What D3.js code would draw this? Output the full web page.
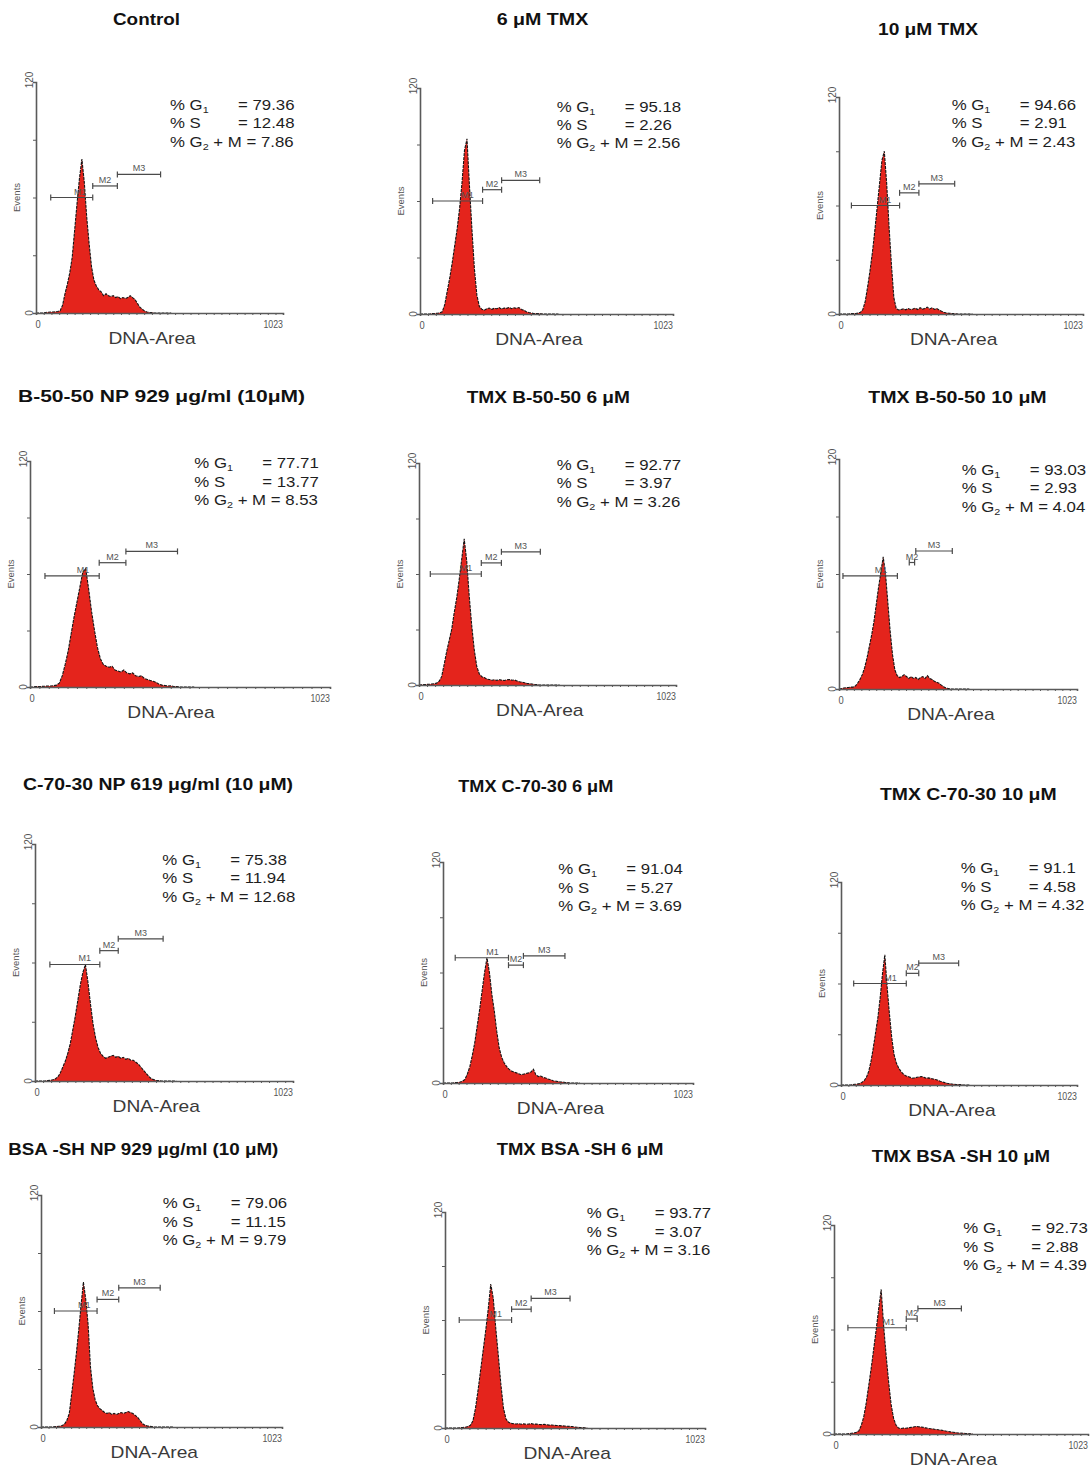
<!DOCTYPE html>
<html>
<head>
<meta charset="utf-8">
<script src="https://cdn.jsdelivr.net/npm/d3@7"></script>
<style>
  html, body { margin: 0; padding: 0; background: #ffffff; }
  svg text { font-family: "Liberation Sans", Arial, sans-serif; }
</style>
</head>
<body>
<svg id="chart" width="1091" height="1468"></svg>
<script>
// ---------------- DATA ----------------
const titles = [
  "Control", "6 μM TMX", "10 μM TMX",
  "B-50-50 NP 929 μg/ml (10μM)", "TMX B-50-50 6 μM", "TMX B-50-50 10 μM",
  "C-70-30 NP 619 μg/ml (10 μM)", "TMX C-70-30 6 μM", "TMX C-70-30 10 μM",
  "BSA -SH NP 929 μg/ml (10 μM)", "TMX BSA -SH 6 μM", "TMX BSA -SH 10 μM"
];
const pctG1  = ["79.36", "95.18", "94.66", "77.71", "92.77", "93.03", "75.38", "91.04", "91.1", "79.06", "93.77", "92.73"];
const pctS   = ["12.48", "2.26", "2.91", "13.77", "3.97", "2.93", "11.94", "5.27", "4.58", "11.15", "3.07", "2.88"];
const pctG2M = ["7.86", "2.56", "2.43", "8.53", "3.26", "4.04", "12.68", "3.69", "4.32", "9.79", "3.16", "4.39"];

const yTicks = [0, 30, 60, 90, 120];
const xTickLabels = ["0", "1023"];
const xMinorTicks = [0, 32, 64, 96, 128, 160, 192, 224, 256, 288, 320, 352, 384, 416, 448, 480, 512, 544, 576, 608, 640, 672, 704, 736, 768, 800, 832, 864, 896, 928, 960, 992, 1023];

// DNA-Area channels (histogram sample points)
const channels = [0,10,20,30,40,50,60,70,80,90, 100,110,120,130,140,150,160,170,180,190,
  200,210,220,230,240,250,260,270,280,290, 300,310,320,330,340,350,360,370,380,390,
  400,410,420,430,440,450,460,470,480,490, 500,510,520,530,540,550,560];

// Events per channel, one list per sample
const countsControl = [0,0,0,0,0.3,0.4,0.5,0.5,0.6,0.8, 1.2,4,10,15,21,29,43,57,70,80, 68,50,36,24,17,14,12,11,9,10, 9,8.5,9,8,8.5,7.5,8,7.5,8,9, 8,7,5,3,2,1,0.5,0.3,0.2,0, 0,0,0,0,0,0,0];
const countsTmx6 = [0,0,0,0,0,0.2,0.3,0.4,0.6,1.2, 5,12,19,27,36,45,56,70,87,93, 68,45,24,10,4,2.5,2,2.8,3.2,2.5, 3,2.8,3.4,2.6,3.2,3,3.5,2.8,3.3,3, 3.4,2.4,2,1.2,0.8,0.5,0.3,0.2,0.2,0.1, 0,0,0,0,0,0,0];
const countsTmx10 = [0,0,0,0,0,0.2,0.3,0.3,0.5,0.9, 2.5,7,15,24,34,46,59,72,85,90, 72,48,27,9,3,2.2,2.5,2.8,2.3,3, 2.5,2.8,3.2,2.5,3.5,2.7,3,3.8,2.8,3.4, 2.6,3,2.2,1.5,1,0.6,0.4,0.3,0.2,0.1, 0,0,0,0,0,0,0];
const countsB5050 = [0,0,0.2,0.3,0.3,0.4,0.5,0.5,0.7,1, 2,6,12,19,28,37,45,53,61,63, 52,40,30,21,15,12,11,10.5,11,9, 8.5,8,9,7.5,7,7.5,6,5.5,6,4.5, 4,3.5,3,2.5,1.5,1,0.8,0.5,0.6,0.3, 0.2,0,0,0,0,0,0];
const countsTmxB6 = [0,0.1,0.2,0.3,0.4,0.5,0.7,1,2,4.5, 11,18,24,30,39,47,57,68,79,67, 48,32,19,10,6,4.5,4,3.2,3,2.6, 2.8,2.5,2.9,2.6,2.4,2.8,3,2.6,2.7,2.2, 1.8,1.5,1.2,0.9,0.7,0.5,0.3,0.2,0,0, 0,0,0,0,0,0,0];
const countsTmxB10 = [0,0.2,0.5,0.7,0.8,1,1,1.5,3,5, 7.5,11,16,22,28,35,44,53,61,69, 60,45,30,18,10,7,6,6.5,7.5,6.5, 5.5,6.5,5.5,6,5,6,6.5,5.5,7,5.5, 5,4,3.5,3,2,1.2,0.5,0.3,0,0, 0,0,0,0,0,0,0];
const countsC7030 = [0,0,0,0,0,0.2,0.3,0.6,1,2, 4,7,10,14,19,26,33,41,49,55, 59,50,39,29,22,17,14,12.5,11.5,12, 12.5,13,12,12.5,11.5,12,11,11.5,10.5,10.5, 9.5,8.5,7,5.5,4,2.5,1.3,0.7,0.4,0.2, 0,0,0,0,0,0,0];
const countsTmxC6 = [0,0,0,0,0,0.2,0.3,0.5,1,2, 5,9,15,22,31,40,50,60,68,60, 48,39,28,19,14,11,9,7.5,6.5,6, 5.5,5,4.5,4.8,5.2,5.5,6,7.5,4.5,3.5, 3.8,3,2.7,2.2,1.8,1.2,1,0.8,0.6,0.5, 0.3,0.2,0,0,0,0,0];
const countsTmxC10 = [0,0,0,0,0,0.2,0.4,0.5,0.8,1.5, 2.5,4.5,8,14,22,31,40,52,66,77, 58,42,28,18,13,10,8,6.5,5.5,5, 4.5,4,4.2,4.6,4.8,5,4.5,4,4.2,3.8, 3.5,3.2,2.8,2.2,1.8,1.4,1,0.8,0.6,0.4, 0.3,0.3,0.2,0,0,0,0];
const countsBsa = [0,0,0,0,0,0,0.2,0.3,0.5,0.8, 1.5,3.5,7,17,27,38,50,63,75,66, 53,31,20,14,11,9.5,8.5,7.5,7,7.5, 6.5,7,6.5,7,7.5,7,7.5,8,7.5,7, 6,5,3.5,1.8,1,0.6,0.4,0.2,0,0, 0,0,0,0,0,0,0];
const countsTmxBsa6 = [0,0,0,0,0,0,0.2,0.3,0.4,0.8, 1.5,4,11,21,32,43,54,66,80,72, 55,40,24,11,5,3.2,2.6,2.4,2.2,2.4, 2.1,2.3,2,2.2,2.4,2.1,2.2,2,1.9,2, 1.8,1.6,1.7,1.5,1.4,1.3,1.2,1.1,1,0.9, 0.8,0.6,0.4,0.3,0.2,0.1,0];
const countsTmxBsa10 = [0,0,0,0,0,0,0.2,0.4,0.6,1, 1.8,5,10,18,28,38,49,60,72,83, 62,45,30,17,9,5,3.4,3.2,3.4,3.3, 3.6,3.8,4,4.3,4.2,4,3.8,3.5,3.2,3, 2.9,2.6,2.4,2.2,2,1.7,1.5,1.2,1,0.8, 0.6,0.5,0.4,0.3,0.2,0.1,0];

const allCounts = [countsControl, countsTmx6, countsTmx10, countsB5050, countsTmxB6, countsTmxB10,
  countsC7030, countsTmxC6, countsTmxC10, countsBsa, countsTmxBsa6, countsTmxBsa10];

// Gate markers: [start channel, end channel, events level]
const markerNames = ["M1", "M2", "M3"];
const markersM1 = [[61,235,60],[51,253,60],[52,254,60],[51,236,59],[45,248,60],[17,251,59],[59,257,59],[50,268,68],[55,283,60],[57,238,60],[56,262,60],[56,291,61]];
const markersM2 = [[235,337,66],[253,330,66],[254,335,67],[236,327,66],[248,328,66],[302,325,66],[257,330,66],[268,329,64],[283,337,66],[238,330,66],[262,339,66],[291,335,66]];
const markersM3 = [[337,516,72],[330,484,71],[335,485,72],[327,503,72],[328,483,72],[330,487,72],[330,508,72],[329,499,69],[337,510,72],[330,506,72],[339,492,72],[338,513,72]];

// ---------------- LAYOUT (pixel positions of each panel) ----------------
const layout = [
  {x0:36,  x1:283,  y0:313,  yTop:82,   tx:146.5, ty:25,    tw:67,    sx:170,   sy:110},
  {x0:420, x1:673,  y0:314,  yTop:88,   tx:542.5, ty:25,    tw:91.6,  sx:556.7, sy:111.7},
  {x0:839, x1:1083, y0:314,  yTop:97,   tx:928,   ty:35,    tw:100,   sx:951.7, sy:110},
  {x0:30,  x1:330,  y0:687,  yTop:461,  tx:161.5, ty:401.7, tw:287,   sx:194.3, sy:468.3},
  {x0:419, x1:676,  y0:685,  yTop:463,  tx:548.3, ty:403.3, tw:163.3, sx:556.7, sy:470},
  {x0:839, x1:1077, y0:689,  yTop:459,  tx:957.5, ty:403.3, tw:178.3, sx:961.7, sy:475},
  {x0:35,  x1:293,  y0:1081, yTop:844,  tx:158,   ty:790,   tw:270,   sx:162.3, sy:865},
  {x0:443, x1:693,  y0:1083, yTop:862,  tx:535.8, ty:791.7, tw:155,   sx:558.3, sy:874.3},
  {x0:841, x1:1077, y0:1085, yTop:882,  tx:968.3, ty:800,   tw:176.7, sx:960.7, sy:873.3},
  {x0:41,  x1:282,  y0:1427, yTop:1195, tx:143.3, ty:1155,  tw:270,   sx:162.7, sy:1208.3},
  {x0:445, x1:705,  y0:1428, yTop:1212, tx:580,   ty:1155,  tw:166.7, sx:586.7, sy:1218.3},
  {x0:834, x1:1088, y0:1434, yTop:1225, tx:961,   ty:1161.7,tw:178.3, sx:963.3, sy:1233.3}
];

const STRETCH = 1.2;       // horizontal stretch of text in the source figure
const RED = "#e4241c";
const AXIS = "#5a5a5a";

// ---------------- DRAW ----------------
const svg = d3.select("#chart");

layout.forEach((L, i) => {
  const g = svg.append("g");
  const x = d3.scaleLinear().domain([0, 1023]).range([L.x0, L.x1]);
  const y = d3.scaleLinear().domain([0, 120]).range([L.y0, L.yTop]);
  const pts = channels.map((c, k) => ({c: c, v: allCounts[i][k]}));

  // title
  g.append("text")
    .attr("x", L.tx).attr("y", L.ty)
    .attr("text-anchor", "middle")
    .attr("font-size", 16).attr("font-weight", "bold").attr("fill", "#111")
    .attr("textLength", L.tw).attr("lengthAdjust", "spacingAndGlyphs")
    .text(titles[i]);

  // histogram fill + outline
  const area = d3.area().x(d => x(d.c)).y0(y(0)).y1(d => y(d.v));
  const line = d3.line().x(d => x(d.c)).y(d => y(d.v));
  g.append("path").datum(pts).attr("d", area).attr("fill", RED);
  g.append("path").datum(pts).attr("d", line)
    .attr("fill", "none").attr("stroke", "#151515").attr("stroke-width", 1.1)
    .attr("stroke-dasharray", "3,1");

  // axes
  const yAxis = d3.axisLeft(y).tickValues(yTicks).tickSize(3).tickFormat("");
  const xAxis = d3.axisBottom(x).tickValues(xMinorTicks).tickSize(2).tickFormat("");
  const ya = g.append("g").attr("transform", `translate(${L.x0},0)`).call(yAxis);
  const xa = g.append("g").attr("transform", `translate(0,${L.y0})`).call(xAxis);
  [ya, xa].forEach(a => {
    a.select(".domain").attr("stroke", AXIS).attr("stroke-width", 1.6);
    a.selectAll(".tick line").attr("stroke", AXIS).attr("stroke-width", 1);
  });

  // y tick labels (rotated) "0" and "120"
  [[yTicks[0], L.y0], [yTicks[yTicks.length - 1], L.yTop - 2]].forEach(([v, py]) => {
    g.append("text")
      .attr("transform", `translate(${L.x0 - 3},${py}) rotate(-90)`)
      .attr("text-anchor", "middle").attr("font-size", 10).attr("fill", "#555")
      .text(v);
  });

  // x tick labels
  g.append("text")
    .attr("transform", `translate(${x(0) + 2},${L.y0 + 15}) scale(0.85,1)`)
    .attr("text-anchor", "middle").attr("font-size", 11).attr("fill", "#555")
    .text(xTickLabels[0]);
  g.append("text")
    .attr("transform", `translate(${x(1023)},${L.y0 + 15}) scale(0.8,1)`)
    .attr("text-anchor", "end").attr("font-size", 11).attr("fill", "#555")
    .text(xTickLabels[1]);

  // axis titles
  g.append("text")
    .attr("transform", `translate(${L.x0 + 0.47 * (L.x1 - L.x0)},${L.y0 + 31}) scale(${STRETCH},1)`)
    .attr("text-anchor", "middle").attr("font-size", 16).attr("fill", "#3a3a3a")
    .text("DNA-Area");
  g.append("text")
    .attr("transform", `translate(${L.x0 - 16},${(L.y0 + L.yTop) / 2}) rotate(-90)`)
    .attr("text-anchor", "middle").attr("font-size", 9.5).attr("fill", "#555")
    .text("Events");

  // gate markers
  [markersM1[i], markersM2[i], markersM3[i]].forEach((m, k) => {
    const [a, b, h] = m;
    const yy = y(h);
    const mg = g.append("g").attr("stroke", "#4a4a4a").attr("stroke-width", 1.2);
    mg.append("line").attr("x1", x(a)).attr("x2", x(b)).attr("y1", yy).attr("y2", yy);
    mg.append("line").attr("x1", x(a)).attr("x2", x(a)).attr("y1", yy - 3).attr("y2", yy + 3);
    mg.append("line").attr("x1", x(b)).attr("x2", x(b)).attr("y1", yy - 3).attr("y2", yy + 3);
    const lx = k === 0 ? x(a + 0.7 * (b - a)) : x(a + 0.5 * (b - a));
    g.append("text")
      .attr("x", lx).attr("y", yy - 3)
      .attr("text-anchor", "middle").attr("font-size", 9).attr("fill", "#555")
      .text(markerNames[k]);
  });

  // statistics block
  const st = g.append("g").attr("transform", `translate(${L.sx},${L.sy})`).attr("fill", "#1e1e1e");
  const lh = 18.3;
  const lbl = (dx, dy) => st.append("text")
    .attr("transform", `translate(${dx},${dy}) scale(${STRETCH},1)`)
    .attr("font-size", 14);
  const t1 = lbl(0, 0); t1.append("tspan").text("% G");
  t1.append("tspan").attr("font-size", 9).attr("dy", 3).text("1");
  lbl(68, 0).text("= " + pctG1[i]);
  lbl(0, lh).text("% S");
  lbl(68, lh).text("= " + pctS[i]);
  const t3 = lbl(0, 2 * lh); t3.append("tspan").text("% G");
  t3.append("tspan").attr("font-size", 9).attr("dy", 3).text("2");
  t3.append("tspan").attr("dy", -3).text(" + M = " + pctG2M[i]);
});
</script>
</body>
</html>
